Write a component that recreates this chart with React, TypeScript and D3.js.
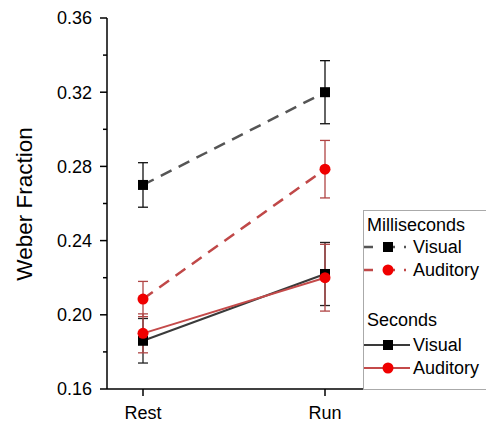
import React from "react";
import * as d3 from "d3";

const categories = ["Rest", "Run"];
const yTicks = [0.16, 0.2, 0.24, 0.28, 0.32, 0.36];
const yMinorTicks = [0.18, 0.22, 0.26, 0.3, 0.34];

const msVisual = [0.27, 0.32];
const msVisualErr = [0.012, 0.017];
const msAuditory = [0.2085, 0.2785];
const msAuditoryErr = [0.0095, 0.0155];
const sVisual = [0.186, 0.222];
const sVisualErr = [0.012, 0.017];
const sAuditory = [0.19, 0.22];
const sAuditoryErr = [0.0105, 0.018];

const FONT = "Liberation Sans, Arial, sans-serif";

type Series = {
  name: string;
  values: number[];
  err: number[];
  lineColor: string;
  errColor: string;
  markerColor: string;
  marker: "square" | "circle";
  dashed: boolean;
};

const series: Series[] = [
  { name: "sVisual", values: sVisual, err: sVisualErr, lineColor: "#3a3a3a", errColor: "#222", markerColor: "#000", marker: "square", dashed: false },
  { name: "sAuditory", values: sAuditory, err: sAuditoryErr, lineColor: "#c44a4a", errColor: "#b04545", markerColor: "#f00000", marker: "circle", dashed: false },
  { name: "msVisual", values: msVisual, err: msVisualErr, lineColor: "#555", errColor: "#111", markerColor: "#000", marker: "square", dashed: true },
  { name: "msAuditory", values: msAuditory, err: msAuditoryErr, lineColor: "#c04848", errColor: "#b04545", markerColor: "#f00000", marker: "circle", dashed: true },
];

function Marker({ x, y, type, color }: { x: number; y: number; type: string; color: string }) {
  if (type === "square") return <rect x={x - 5} y={y - 5} width={10} height={10} fill={color} />;
  return <circle cx={x} cy={y} r={5.5} fill={color} />;
}

export default function App() {
  const W = 486, H = 424;
  const x = d3.scalePoint<string>().domain(categories).range([143, 325]);
  const y = d3.scaleLinear().domain([0.16, 0.36]).range([389, 18]);
  const axisX = 107;
  const axisY = 389;
  const line = d3.line<number>().x((_, i) => x(categories[i])!).y((d) => y(d));

  const legendRows = [
    { label: "Milliseconds", y: 225, header: true },
    { label: "Visual", y: 247, s: series[2] },
    { label: "Auditory", y: 270, s: series[3] },
    { label: "Seconds", y: 320, header: true },
    { label: "Visual", y: 345, s: series[0] },
    { label: "Auditory", y: 368, s: series[1] },
  ] as any[];

  return (
    <svg width={W} height={H} style={{ position: "absolute", left: 0, top: 0, background: "#fff" }} fontFamily={FONT}>
      {/* Y axis */}
      <line x1={axisX} y1={y(0.36)} x2={axisX} y2={axisY} stroke="#000" strokeWidth={1.5} />
      {yTicks.map((t) => (
        <g key={t}>
          <line x1={axisX - 7} x2={axisX} y1={y(t)} y2={y(t)} stroke="#000" strokeWidth={1.5} />
          <text x={92} y={y(t)} dy="0.35em" textAnchor="end" fontSize={18}>
            {t.toFixed(2)}
          </text>
        </g>
      ))}
      {yMinorTicks.map((t) => (
        <line key={t} x1={axisX - 4} x2={axisX} y1={y(t)} y2={y(t)} stroke="#000" strokeWidth={1.5} />
      ))}
      <text transform={`translate(32,204) rotate(-90)`} textAnchor="middle" fontSize={22.5}>
        Weber Fraction
      </text>
      {/* X axis */}
      <line x1={axisX} x2={415} y1={axisY} y2={axisY} stroke="#000" strokeWidth={1.5} />
      {categories.map((c) => (
        <g key={c}>
          <line x1={x(c)} x2={x(c)} y1={axisY} y2={axisY + 7} stroke="#000" strokeWidth={1.5} />
          <text x={x(c)} y={419} textAnchor="middle" fontSize={18}>
            {c}
          </text>
        </g>
      ))}
      {/* series */}
      {series.map((s) => (
        <g key={s.name}>
          <path
            d={line(s.values) || ""}
            fill="none"
            stroke={s.lineColor}
            strokeWidth={s.dashed ? 2.5 : 2}
            strokeDasharray={s.dashed ? "12 8" : undefined}
          />
          {s.values.map((v, i) => {
            const cx = x(categories[i])!;
            const top = y(v + s.err[i]);
            const bot = y(v - s.err[i]);
            return (
              <g key={i}>
                <line x1={cx} x2={cx} y1={top} y2={bot} stroke={s.errColor} strokeWidth={1.3} />
                <line x1={cx - 5} x2={cx + 5} y1={top} y2={top} stroke={s.errColor} strokeWidth={1.3} />
                <line x1={cx - 5} x2={cx + 5} y1={bot} y2={bot} stroke={s.errColor} strokeWidth={1.3} />
              </g>
            );
          })}
        </g>
      ))}
      {series.map((s) => (
        <g key={s.name + "m"}>
          {s.values.map((v, i) => (
            <Marker key={i} x={x(categories[i])!} y={y(v)} type={s.marker} color={s.markerColor} />
          ))}
        </g>
      ))}
      {/* legend */}
      <rect x={363.5} y={210.5} width={130} height={179} fill="#fff" stroke="#aaa" strokeWidth={1} />
      {legendRows.map((r, i) =>
        r.header ? (
          <text key={i} x={367} y={r.y} dy="0.35em" fontSize={18}>
            {r.label}
          </text>
        ) : (
          <g key={i}>
            <line
              x1={364}
              x2={410}
              y1={r.y}
              y2={r.y}
              stroke={r.s.lineColor}
              strokeWidth={r.s.dashed ? 2.5 : 1.8}
              strokeDasharray={r.s.dashed ? "9 10 12 9 2 100" : undefined}
            />
            <Marker x={388} y={r.y} type={r.s.marker} color={r.s.markerColor} />
            <text x={413} y={r.y} dy="0.35em" fontSize={18}>
              {r.label}
            </text>
          </g>
        )
      )}
    </svg>
  );
}
